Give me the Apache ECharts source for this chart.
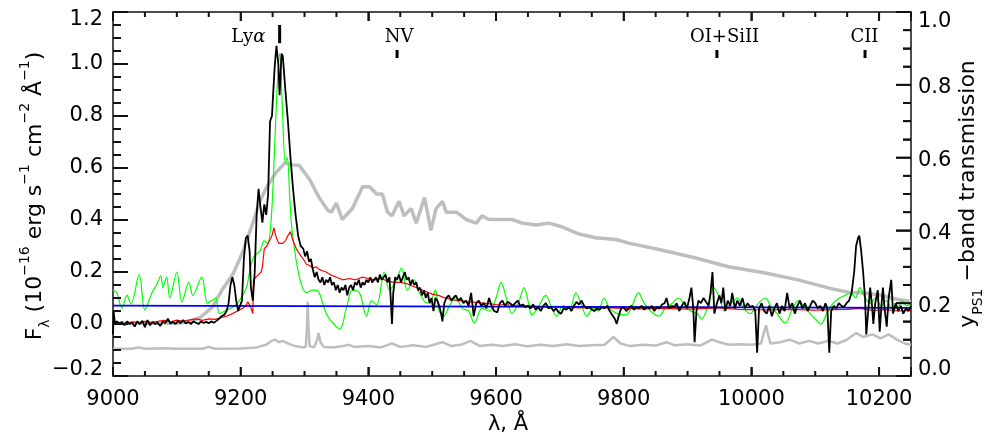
<!DOCTYPE html>
<html>
<head>
<meta charset="utf-8">
<script src="https://cdn.jsdelivr.net/npm/echarts@6/dist/echarts.min.js"></script>
<style>
html,body{margin:0;padding:0;background:#fff;}
#chart{width:989px;height:443px;}
</style>
</head>
<body>
<div id="chart"></div>
<script>
// ---------------- data (wavelength in Angstrom, flux in 1e-16 erg/s/cm2/A) ----------------
const xTicks = [9000, 9200, 9400, 9600, 9800, 10000, 10200];

const blackFlux = [
[9000,-0.04],[9001,0.05],[9003,0.0],[9006,0.01],[9010,0.0],[9014,0.008],[9018,-0.005],[9022,0.01],[9026,0.0],[9030,0.005],
[9034,-0.01],[9038,0.01],[9042,0.0],[9046,0.012],[9050,-0.012],[9054,0.015],[9058,-0.005],[9062,0.008],[9066,0.0],[9070,0.005],
[9074,-0.008],[9078,0.01],[9082,0.004],[9086,0.02],[9090,0.002],[9094,0.008],[9098,0.0],[9102,0.012],[9106,0.003],[9110,0.015],
[9114,0.002],[9118,0.008],[9122,0.0],[9126,0.01],[9130,0.005],[9134,0.0],[9138,0.01],[9142,0.004],[9146,0.008],[9150,0.003],
[9154,0.01],[9158,0.005],[9162,0.012],[9166,0.02],[9170,0.03],[9174,0.035],[9178,0.05],[9181,0.08],[9184,0.15],[9187,0.18],
[9190,0.15],[9193,0.09],[9196,0.05],[9199,0.045],[9202,0.09],[9205,0.25],[9208,0.33],[9211,0.34],[9214,0.28],[9216,0.14],
[9219,0.09],[9222,0.2],[9225,0.42],[9228,0.52],[9231,0.45],[9234,0.39],[9237,0.46],[9240,0.42],[9243,0.5],[9246,0.78],
[9249,0.8],[9253,0.98],[9256,1.07],[9259,1.0],[9261,0.88],[9264,1.04],[9266,1.03],[9270,0.9],[9274,0.78],[9278,0.64],
[9282,0.52],[9286,0.42],[9290,0.34],[9294,0.3],[9298,0.29],[9301,0.26],[9304,0.28],[9307,0.24],[9310,0.25],[9313,0.21],
[9316,0.18],[9319,0.2],[9322,0.17],[9325,0.16],[9328,0.18],[9331,0.15],[9334,0.17],[9337,0.16],[9340,0.18],[9343,0.15],
[9346,0.16],[9349,0.13],[9352,0.15],[9355,0.12],[9358,0.14],[9361,0.13],[9364,0.15],[9367,0.11],[9370,0.14],[9373,0.15],
[9376,0.13],[9379,0.16],[9382,0.15],[9385,0.17],[9388,0.14],[9391,0.16],[9394,0.15],[9397,0.17],[9400,0.16],[9403,0.18],
[9406,0.16],[9409,0.17],[9412,0.18],[9415,0.16],[9418,0.19],[9421,0.17],[9424,0.18],[9427,0.19],[9430,0.16],[9433,0.18],
[9435,0.1],[9437,0.0],[9439,0.12],[9442,0.18],[9445,0.17],[9448,0.19],[9451,0.16],[9454,0.18],[9457,0.2],[9460,0.17],
[9463,0.18],[9466,0.15],[9469,0.17],[9472,0.15],[9475,0.16],[9478,0.13],[9481,0.14],[9484,0.11],[9487,0.13],[9490,0.1],
[9493,0.12],[9496,0.08],[9499,0.1],[9502,0.05],[9505,0.1],[9508,0.09],[9511,0.07],[9514,0.04],[9516,0.01],[9519,0.08],
[9522,0.1],[9526,0.11],[9530,0.09],[9533,0.1],[9537,0.11],[9541,0.09],[9545,0.1],[9549,0.08],[9553,0.09],[9557,0.07],
[9561,0.12],[9565,0.03],[9569,0.08],[9573,0.09],[9577,0.07],[9581,0.08],[9585,0.06],[9589,0.1],[9593,0.07],[9597,0.05],
[9602,0.045],[9606,0.08],[9610,0.09],[9614,0.07],[9618,0.085],[9622,0.08],[9626,0.07],[9630,0.08],[9634,0.09],[9638,0.07],
[9642,0.075],[9646,0.065],[9650,0.07],[9654,0.06],[9658,0.075],[9662,0.055],[9666,0.065],[9670,0.05],[9674,0.07],[9678,0.08],
[9682,0.06],[9686,0.065],[9690,0.05],[9694,0.06],[9698,0.045],[9702,0.04],[9706,0.06],[9710,0.055],[9714,0.065],[9718,0.05],
[9722,0.07],[9726,0.085],[9730,0.075],[9734,0.09],[9738,0.07],[9742,0.06],[9746,0.065],[9750,0.055],[9754,0.05],[9758,0.06],
[9762,0.055],[9766,0.065],[9770,0.06],[9774,0.07],[9778,0.05],[9782,0.035],[9786,0.02],[9789,0.0],[9792,0.03],[9796,0.06],
[9800,0.065],[9804,0.05],[9808,0.06],[9812,0.07],[9816,0.055],[9820,0.065],[9824,0.06],[9828,0.07],[9832,0.055],[9836,0.065],
[9840,0.06],[9844,0.07],[9848,0.05],[9852,0.065],[9856,0.06],[9860,0.075],[9864,0.08],[9867,0.1],[9871,0.06],[9875,0.07],
[9879,0.065],[9883,0.08],[9887,0.05],[9891,0.07],[9895,0.085],[9899,0.06],[9903,0.1],[9906,0.14],[9909,0.06],[9911,-0.07],
[9914,0.05],[9917,0.09],[9921,0.08],[9925,0.1],[9929,0.085],[9933,0.07],[9936,0.12],[9939,0.2],[9942,0.04],[9946,0.08],
[9950,0.11],[9953,0.08],[9956,0.14],[9959,0.05],[9963,0.09],[9967,0.07],[9970,0.12],[9974,0.06],[9978,0.09],[9982,0.07],
[9986,0.1],[9990,0.06],[9994,0.08],[9998,0.065],[10002,0.07],[10006,0.05],[10009,-0.11],[10012,0.06],[10016,0.08],[10020,0.05],
[10024,0.04],[10028,0.07],[10032,0.03],[10036,0.06],[10040,0.08],[10044,0.04],[10048,0.07],[10052,0.05],[10056,0.12],[10060,0.06],
[10064,0.08],[10068,0.04],[10072,0.07],[10076,0.09],[10080,0.06],[10084,0.08],[10088,0.05],[10092,0.07],[10096,0.09],[10100,0.08],
[10104,0.06],[10108,0.07],[10112,0.05],[10116,0.08],[10119,0.06],[10122,-0.11],[10125,0.05],[10129,0.07],[10133,0.06],[10137,0.08],
[10141,0.07],[10145,0.065],[10149,0.08],[10153,0.09],[10157,0.12],[10161,0.2],[10164,0.3],[10167,0.33],[10169,0.34],[10172,0.28],
[10175,0.2],[10178,0.1],[10180,-0.04],[10183,0.05],[10186,0.14],[10189,0.07],[10191,0.0],[10194,0.08],[10198,0.13],[10201,-0.03],
[10204,0.08],[10206,0.14],[10209,0.05],[10212,-0.01],[10215,0.1],[10219,0.17],[10222,0.04],[10226,0.08],[10230,0.05],[10234,0.07],
[10238,0.04],[10242,0.06],[10246,0.05],[10250,0.07]
];

const redFlux = [
[9000,0.0],[9010,0.005],[9020,0.0],[9030,0.008],[9040,0.004],[9050,0.01],[9060,0.005],[9070,0.01],[9080,0.014],[9090,0.008],
[9100,0.015],[9110,0.01],[9120,0.016],[9130,0.02],[9140,0.014],[9150,0.02],[9160,0.018],[9170,0.025],[9178,0.03],[9187,0.04],
[9195,0.05],[9203,0.06],[9208,0.07],[9211,0.085],[9215,0.07],[9219,0.04],[9220,0.17],[9224,0.18],[9228,0.19],[9232,0.2],
[9234,0.22],[9237,0.29],[9241,0.3],[9245,0.32],[9249,0.34],[9252,0.37],[9256,0.33],[9260,0.31],[9266,0.31],[9270,0.32],
[9274,0.34],[9278,0.355],[9282,0.32],[9287,0.29],[9292,0.27],[9298,0.25],[9303,0.23],[9308,0.225],[9313,0.215],[9318,0.22],
[9323,0.21],[9328,0.205],[9334,0.2],[9340,0.19],[9350,0.18],[9360,0.17],[9370,0.175],[9380,0.17],[9390,0.18],[9400,0.175],
[9410,0.17],[9420,0.175],[9430,0.165],[9440,0.16],[9450,0.16],[9460,0.155],[9470,0.145],[9480,0.135],[9490,0.125],[9500,0.115],
[9510,0.11],[9520,0.1],[9530,0.095],[9540,0.09],[9550,0.088],[9560,0.085],[9580,0.08],[9600,0.075],[9620,0.073],[9650,0.07],
[9680,0.066],[9700,0.065],[9730,0.062],[9760,0.064],[9800,0.06],[9830,0.058],[9860,0.06],[9900,0.057],[9930,0.06],[9950,0.062],
[9980,0.056],[10000,0.055],[10030,0.054],[10060,0.056],[10100,0.053],[10130,0.055],[10150,0.056],[10170,0.06],[10190,0.052],
[10210,0.055],[10230,0.05],[10250,0.052]
];

const greenFlux = [
[9000,0.13],[9006,0.12],[9014,0.06],[9022,0.11],[9028,0.077],[9041,0.19],[9050,0.054],[9061,0.12],[9068,0.15],[9075,0.185],
[9078,0.14],[9084,0.18],[9089,0.10],[9100,0.2],[9108,0.085],[9119,0.16],[9125,0.11],[9139,0.18],[9148,0.08],[9155,0.09],
[9161,0.10],[9167,0.04],[9178,0.054],[9188,0.065],[9198,0.09],[9209,0.14],[9214,0.2],[9219,0.25],[9225,0.27],[9230,0.28],
[9237,0.32],[9242,0.31],[9248,0.41],[9253,0.67],[9257,0.9],[9261,1.04],[9265,0.85],[9270,0.62],[9273,0.64],[9277,0.48],
[9281,0.35],[9292,0.18],[9303,0.12],[9312,0.13],[9317,0.13],[9323,0.12],[9334,0.04],[9344,0.004],[9355,-0.02],[9366,0.065],
[9375,0.13],[9386,0.12],[9397,0.03],[9405,0.09],[9413,0.073],[9425,0.2],[9433,0.13],[9444,0.17],[9452,0.215],[9461,0.13],
[9472,0.17],[9480,0.12],[9492,0.08],[9500,0.1],[9505,0.13],[9511,0.05],[9518,0.03],[9527,0.07],[9537,0.1],[9547,0.06],
[9557,0.05],[9566,0.004],[9578,0.06],[9590,0.05],[9600,0.1],[9608,0.16],[9616,0.1],[9625,0.04],[9635,0.08],[9644,0.14],
[9650,0.09],[9656,0.035],[9665,0.06],[9678,0.11],[9686,0.07],[9695,0.03],[9705,0.07],[9715,0.06],[9725,0.12],[9733,0.08],
[9742,0.03],[9752,0.06],[9760,0.05],[9769,0.10],[9778,0.06],[9790,0.04],[9803,0.035],[9813,0.07],[9823,0.12],[9832,0.08],
[9842,0.05],[9855,0.03],[9865,0.06],[9876,0.08],[9886,0.10],[9896,0.07],[9905,0.05],[9915,0.04],[9922,0.02],[9932,0.07],
[9941,0.14],[9950,0.1],[9958,0.05],[9968,0.08],[9978,0.1],[9988,0.06],[9998,0.04],[10008,0.07],[10015,0.09],[10022,0.1],
[10030,0.07],[10040,0.04],[10053,0.004],[10063,0.05],[10073,0.09],[10082,0.07],[10092,0.04],[10100,0.02],[10109,0.0],[10118,0.04],
[10128,0.08],[10138,0.1],[10147,0.11],[10156,0.12],[10163,0.1],[10170,0.14],[10178,0.1],[10186,0.08],[10195,0.1],[10203,0.07],
[10212,0.09],[10220,0.06],[10230,0.065],[10236,0.09],[10243,0.07],[10250,0.08]
];

const blueContinuum = [[9000,0.071],[9300,0.069],[9600,0.067],[9900,0.065],[10250,0.062]];

const errorFlux = [
[9000,-0.095],[9030,-0.095],[9040,-0.09],[9050,-0.095],[9080,-0.093],[9100,-0.095],[9140,-0.095],[9150,-0.088],[9160,-0.095],[9200,-0.094],
[9225,-0.09],[9240,-0.08],[9248,-0.065],[9254,-0.06],[9260,-0.07],[9266,-0.065],[9274,-0.075],[9285,-0.085],[9298,-0.09],[9302,-0.088],
[9304,0.0],[9305,0.085],[9306,0.0],[9308,-0.085],[9315,-0.09],[9320,-0.06],[9322,-0.035],[9325,-0.07],[9330,-0.088],[9345,-0.09],
[9360,-0.085],[9370,-0.08],[9378,-0.088],[9400,-0.085],[9420,-0.09],[9437,-0.075],[9450,-0.088],[9470,-0.082],[9490,-0.088],[9516,-0.07],
[9530,-0.085],[9545,-0.08],[9560,-0.065],[9575,-0.085],[9593,-0.08],[9610,-0.085],[9630,-0.078],[9650,-0.086],[9670,-0.08],[9690,-0.085],
[9710,-0.078],[9730,-0.085],[9750,-0.082],[9770,-0.08],[9784,-0.05],[9795,-0.075],[9810,-0.085],[9830,-0.08],[9850,-0.083],[9867,-0.07],
[9880,-0.082],[9900,-0.078],[9920,-0.083],[9938,-0.06],[9950,-0.07],[9965,-0.08],[9980,-0.078],[10000,-0.08],[10015,-0.075],[10020,-0.03],
[10023,-0.005],[10026,-0.04],[10030,-0.075],[10045,-0.07],[10060,-0.06],[10075,-0.075],[10090,-0.065],[10105,-0.075],[10120,-0.065],[10135,-0.075],
[10150,-0.06],[10164,-0.035],[10175,-0.05],[10190,-0.04],[10202,-0.055],[10215,-0.04],[10228,-0.06],[10240,-0.075],[10250,-0.08]
];

const yBandTransmission = [
[9000,0.145],[9100,0.145],[9120,0.15],[9136,0.16],[9156,0.19],[9172,0.24],[9188,0.28],[9203,0.34],[9219,0.42],[9230,0.48],
[9241,0.52],[9256,0.56],[9269,0.585],[9281,0.58],[9292,0.578],[9308,0.54],[9323,0.49],[9336,0.456],[9342,0.45],[9350,0.475],
[9359,0.43],[9375,0.46],[9391,0.52],[9402,0.52],[9413,0.50],[9422,0.50],[9430,0.45],[9437,0.44],[9448,0.48],[9456,0.44],
[9467,0.46],[9475,0.42],[9488,0.49],[9498,0.40],[9506,0.46],[9516,0.48],[9522,0.45],[9538,0.45],[9553,0.43],[9569,0.42],
[9578,0.44],[9589,0.43],[9605,0.43],[9625,0.43],[9641,0.42],[9663,0.415],[9683,0.42],[9703,0.41],[9730,0.39],[9756,0.38],
[9788,0.375],[9808,0.365],[9859,0.346],[9913,0.324],[9964,0.30],[10022,0.283],[10073,0.264],[10125,0.24],[10152,0.23],[10178,0.228],
[10203,0.222],[10230,0.21],[10250,0.205]
];

const lineNames = ['Ly{a|\u03b1}', 'NV', 'OI+SiII', 'CII'];
const lineWaves = [9261, 9445, 9946, 10178];
const tickLow = [1.08, 1.023, 1.023, 1.023];
const tickHigh = [1.15, 1.054, 1.054, 1.054];
const labelWaves = [9212, 9448, 9958, 10177];
const labelFlux = [1.104, 1.104, 1.104, 1.104];

// ---------------- tick lists (major at labels, 4 minor intervals) ----------------
const X_MIN = 9000, X_MAX = 10250, YL_MIN = -0.2, YL_MAX = 1.2;
const xTickList = [];
for (let v = X_MIN; v <= X_MAX + 1e-6; v += 50) xTickList.push([v, xTicks.indexOf(v) >= 0 ? 1 : 0]);
const yLeftTickList = [];
for (let i = 0; i <= 28; i++) yLeftTickList.push([X_MIN, YL_MIN + i * 0.05, i % 4 === 0 ? 1 : 0]);
const yRightTickList = [];
for (let i = 0; i <= 20; i++) yRightTickList.push([X_MAX, i * 0.05, i % 4 === 0 ? 1 : 0]);

// ---------------- chart ----------------
const AX = '#111';
const tickFont = {fontFamily: 'DejaVu Sans', fontSize: 21, color: '#000'};
const fmtY = v => (Math.abs(v) < 1e-9 ? 0 : v).toFixed(1).replace('-', '\u2212');
const tickFill = {fill: AX};

const chart = echarts.init(document.getElementById('chart'), null, {renderer: 'canvas'});
const lineSeries = (name, data, color, width, yIdx, z, smooth) => ({
  name, type: 'line', data, xAxisIndex: 0, yAxisIndex: yIdx, showSymbol: false, symbol: 'none',
  smooth: smooth || false, z: z, silent: true,
  lineStyle: {color: color, width: width}, clip: true
});
const axisTickCfg = len => ({show: true, inside: true, length: len, lineStyle: {color: AX, width: 1.5}});

chart.setOption({
  animation: false,
  backgroundColor: '#fff',
  grid: {left: 113, right: 78, top: 12, bottom: 67, containLabel: false},
  xAxis: [
    {
      type: 'value', position: 'bottom', min: X_MIN, max: X_MAX, interval: 200,
      axisLine: {show: true, onZero: false, lineStyle: {color: AX, width: 1.5}},
      axisTick: axisTickCfg(9), minorTick: {show: false}, splitLine: {show: false},
      axisLabel: Object.assign({show: true, margin: 13,
        formatter: v => (xTicks.indexOf(v) >= 0 ? String(v) : '')}, tickFont)
    },
    {
      type: 'value', position: 'top', min: X_MIN, max: X_MAX, interval: 200,
      axisLine: {show: true, onZero: false, lineStyle: {color: AX, width: 1.5}},
      axisTick: axisTickCfg(9), minorTick: {show: false}, splitLine: {show: false},
      axisLabel: {show: false}
    }
  ],
  yAxis: [
    {
      type: 'value', position: 'left', min: YL_MIN, max: YL_MAX, interval: 0.2,
      axisLine: {show: true, onZero: false, lineStyle: {color: AX, width: 1.5}},
      axisTick: axisTickCfg(15),
      minorTick: {show: true, splitNumber: 4, length: 8, lineStyle: {color: AX, width: 1.5}},
      splitLine: {show: false},
      axisLabel: Object.assign({margin: 10,
        formatter: v => {
          const s = fmtY(v);
          if (Math.abs(v - YL_MAX) < 1e-6) return '{t|' + s + '}';
          if (Math.abs(v - YL_MIN) < 1e-6) return '{b|' + s + '}';
          return s;
        },
        rich: {
          t: {fontFamily: 'DejaVu Sans', fontSize: 21, color: '#000', padding: [16, 0, 0, 0]},
          b: {fontFamily: 'DejaVu Sans', fontSize: 21, color: '#000', padding: [0, 0, 12, 0]}
        }}, tickFont)
    },
    {
      type: 'value', position: 'right', min: 0, max: 1, interval: 0.2,
      axisLine: {show: true, onZero: false, lineStyle: {color: AX, width: 1.5}},
      axisTick: axisTickCfg(15),
      minorTick: {show: true, splitNumber: 4, length: 8, lineStyle: {color: AX, width: 1.5}},
      splitLine: {show: false},
      axisLabel: Object.assign({margin: 7,
        formatter: v => {
          const s = fmtY(v);
          if (Math.abs(v - 1) < 1e-6) return '{t|' + s + '}';
          if (Math.abs(v) < 1e-6) return '{b|' + s + '}';
          return '{m|' + s + '}';
        },
        rich: {
          t: {fontFamily: 'DejaVu Sans', fontSize: 21, color: '#000', padding: [20, 0, 0, 0]},
          m: {fontFamily: 'DejaVu Sans', fontSize: 21, color: '#000', padding: [6, 0, 0, 0]},
          b: {fontFamily: 'DejaVu Sans', fontSize: 21, color: '#000', padding: [0, 0, 12, 0]}
        }}, tickFont)
    }
  ],
  series: [
    lineSeries('transmission', yBandTransmission, '#bebebe', 3.5, 1, 1),
    lineSeries('error', errorFlux, '#bebebe', 2.5, 0, 2),
    lineSeries('green', greenFlux, '#00ff00', 1.2, 0, 3, 0.35),
    lineSeries('red', redFlux, '#ff0000', 1.2, 0, 4),
    lineSeries('blue', blueContinuum, '#0000ff', 1.8, 0, 5),
    lineSeries('black', blackFlux, '#000000', 1.8, 0, 6),
    // emission-line markers
    {
      type: 'custom', xAxisIndex: 0, yAxisIndex: 0, z: 7, silent: true,
      data: lineWaves.map((w, i) => [w, tickLow[i], tickHigh[i]]),
      renderItem: (params, api) => {
        const p1 = api.coord([api.value(0), api.value(1)]);
        const p2 = api.coord([api.value(0), api.value(2)]);
        return {type: 'line', shape: {x1: p1[0], y1: p1[1], x2: p2[0], y2: p2[1]},
          style: {stroke: '#000', lineWidth: 3}};
      }
    },
    {
      type: 'custom', xAxisIndex: 0, yAxisIndex: 0, z: 7, silent: true,
      data: labelWaves.map((w, i) => [w, labelFlux[i], i]),
      renderItem: (params, api) => {
        const p = api.coord([api.value(0), api.value(1)]);
        return {type: 'text', x: p[0], y: p[1],
          style: {text: lineNames[api.value(2)], fill: '#000', font: '18px "DejaVu Serif"',
            align: 'center', verticalAlign: 'middle',
            rich: {a: {fontFamily: 'DejaVu Serif', fontStyle: 'italic', fontSize: 18, fill: '#000'}}}};
      }
    },
    // x-axis ticks (bottom and top, pointing inward)
    {
      type: 'custom', xAxisIndex: 0, yAxisIndex: 0, z: 9, silent: true,
      data: xTickList.map(t => [t[0], YL_MIN, t[1]]),
      renderItem: (params, api) => {
        const b = api.coord([api.value(0), YL_MIN]);
        const t = api.coord([api.value(0), YL_MAX]);
        const L = api.value(2) ? 9 : 5;
        return {type: 'group', children: [
          {type: 'rect', shape: {x: b[0] - 1, y: b[1] - L, width: 2, height: L}, style: tickFill},
          {type: 'rect', shape: {x: t[0] - 1, y: t[1], width: 2, height: L}, style: tickFill}
        ]};
      }
    },
    // left y-axis ticks
    {
      type: 'custom', xAxisIndex: 0, yAxisIndex: 0, z: 9, silent: true,
      data: yLeftTickList,
      renderItem: (params, api) => {
        const p = api.coord([api.value(0), api.value(1)]);
        const L = api.value(2) ? 15 : 8;
        return {type: 'rect', shape: {x: p[0], y: p[1] - 1, width: L, height: 2}, style: tickFill};
      }
    },
    // right y-axis ticks
    {
      type: 'custom', xAxisIndex: 0, yAxisIndex: 1, z: 9, silent: true,
      data: yRightTickList,
      renderItem: (params, api) => {
        const p = api.coord([api.value(0), api.value(1)]);
        const L = api.value(2) ? 15 : 8;
        return {type: 'rect', shape: {x: p[0] - L, y: p[1] - 1, width: L, height: 2}, style: tickFill};
      }
    }
  ],
  graphic: [
    {
      type: 'text', x: 35, y: 196, rotation: Math.PI / 2, silent: true,
      style: {
        text: 'F{sub|\u03bb} (10{sup|\u221216} erg s{sup|\u22121} cm{sup|\u22122} \u00c5{sup|\u22121})',
        font: '22px "DejaVu Sans"', fill: '#000', align: 'center', verticalAlign: 'middle', lineHeight: 34,
        rich: {
          sup: {fontFamily: 'DejaVu Sans', fontSize: 14, fill: '#000', verticalAlign: 'top', lineHeight: 16},
          sub: {fontFamily: 'DejaVu Sans', fontSize: 14, fill: '#000', verticalAlign: 'bottom', lineHeight: 16}
        }
      }
    },
    {
      type: 'text', x: 968, y: 194, rotation: Math.PI / 2, silent: true,
      style: {
        text: 'y{sub|PS1} \u2212band transmission',
        font: '22px "DejaVu Sans"', fill: '#000', align: 'center', verticalAlign: 'middle', lineHeight: 34,
        rich: {
          sub: {fontFamily: 'DejaVu Sans', fontSize: 14, fill: '#000', verticalAlign: 'bottom', lineHeight: 16}
        }
      }
    },
    {
      type: 'text', x: 508, y: 425, silent: true,
      style: {text: '\u03bb, \u00c5', font: '21px "DejaVu Sans"', fill: '#000', align: 'center', verticalAlign: 'middle'}
    }
  ]
});
</script>
</body>
</html>
